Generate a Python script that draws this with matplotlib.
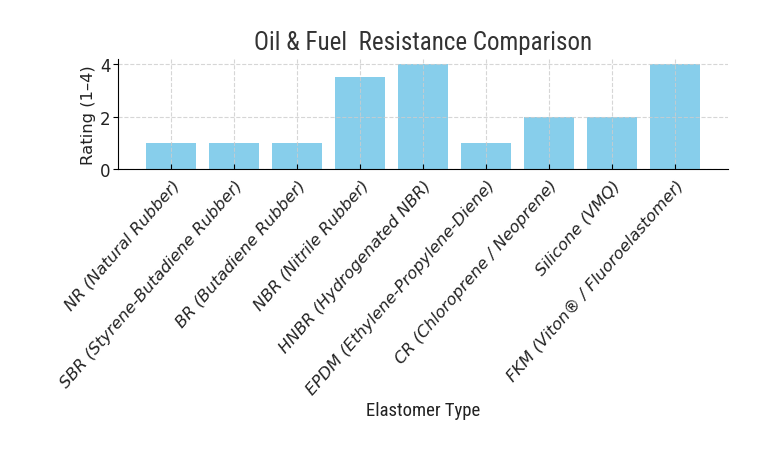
import matplotlib
matplotlib.use("Agg")
import matplotlib.pyplot as plt

plt.rcParams["font.family"] = ["DejaVu Sans"]

elastomers = [
    "NR (Natural Rubber)",
    "SBR (Styrene-Butadiene Rubber)",
    "BR (Butadiene Rubber)",
    "NBR (Nitrile Rubber)",
    "HNBR (Hydrogenated NBR)",
    "EPDM (Ethylene-Propylene-Diene)",
    "CR (Chloroprene / Neoprene)",
    "Silicone (VMQ)",
    "FKM (Viton\u00ae / Fluoroelastomer)",
]
ratings = [1, 1, 1, 3.5, 4, 1, 2, 2, 4]

fig = plt.figure(figsize=(7.84, 4.52), dpi=100)
ax = fig.add_axes([0.1505, 0.624, 0.778, 0.243])

ax.bar(range(len(elastomers)), ratings, width=0.8, color="skyblue")
ax.set_xticks(range(len(elastomers)))
ax.set_xticklabels(elastomers, rotation=49, ha="right", rotation_mode="anchor",
                   fontsize=11.8, color="#222222", family="DejaVu Sans", style="italic")
ax.set_yticks([0, 2, 4])
ax.tick_params(axis="y", labelsize=12, labelcolor="#222222", pad=2)
ax.tick_params(axis="x", direction="in", pad=6)

ax.set_title("Oil & Fuel  Resistance Comparison", fontsize=18, family="Roboto Condensed",
             color="#333333", pad=7)
ax.set_ylabel("Rating (1\u20134)", fontsize=11.8, color="#222222", family="DejaVu Sans",
              labelpad=3)
ax.set_xlabel("Elastomer Type", fontsize=13.5, family="Roboto Condensed", color="#222222",
              labelpad=3)

ax.grid(True, linestyle="--", color="#cccccc", linewidth=0.8, alpha=0.8)
ax.spines["top"].set_visible(False)
ax.spines["right"].set_visible(False)

fig.savefig("out.png", dpi=100)
